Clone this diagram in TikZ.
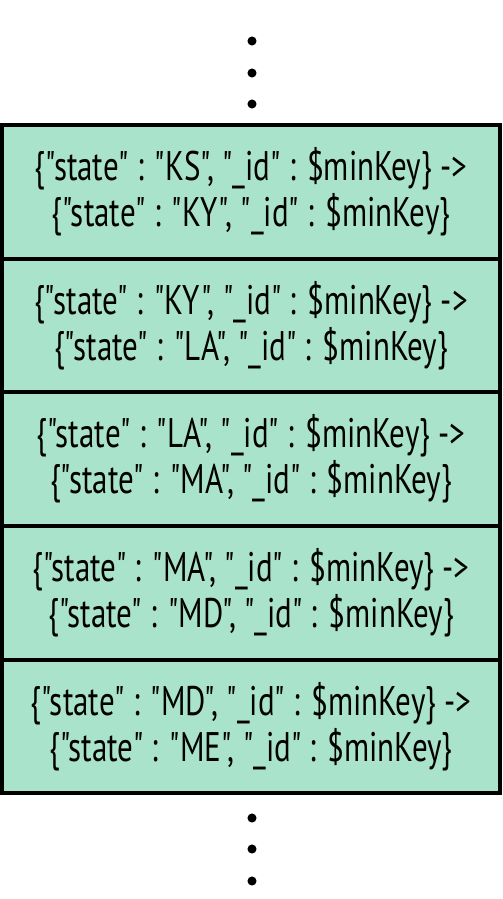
\documentclass[tikz,border=0pt]{standalone}
\usepackage{fontspec}
\setmainfont{PT Sans}[FakeStretch=0.75, Ligatures=TeXOff]
\usepackage{xcolor}
\definecolor{chunkgreen}{RGB}{170,227,203}

\begin{document}
\begin{tikzpicture}[x=0.75pt,y=-0.75pt]
		\tikzset{chunk/.style = {shape=rectangle, draw, line width=3pt, fill=chunkgreen,
			minimum width=373.5pt, minimum height=100.2pt, inner sep=0pt,
			align=center, font=\fontsize{31}{34.5}\selectfont}}
		\tikzset{dot/.style = {shape=circle, fill=black, inner sep=0pt, minimum size=6.8pt}}

		\useasboundingbox (0,0) rectangle (503,899);

		\node[dot] (T1) at (252,41) {};
		\node[dot] (T2) at (252,73) {};
		\node[dot] (T3) at (252,104) {};

		\node[chunk] (KS) at (251,192) {\{"state" : "KS", "\_id" : \$minKey\} ->\\ \{"state" : "KY", "\_id" : \$minKey\}};
		\node[chunk] (KY) at (251,325.6) {\{"state" : "KY", "\_id" : \$minKey\} ->\\ \{"state" : "LA", "\_id" : \$minKey\}};
		\node[chunk] (LA) at (251,459.2) {\{"state" : "LA", "\_id" : \$minKey\} ->\\ \{"state" : "MA", "\_id" : \$minKey\}};
		\node[chunk] (MA) at (251,592.8) {\{"state" : "MA", "\_id" : \$minKey\} ->\\ \{"state" : "MD", "\_id" : \$minKey\}};
		\node[chunk] (MD) at (251,726.4) {\{"state" : "MD", "\_id" : \$minKey\} ->\\ \{"state" : "ME", "\_id" : \$minKey\}};

		\node[dot] (B1) at (252,818) {};
		\node[dot] (B2) at (252,849) {};
		\node[dot] (B3) at (252,881) {};

	\end{tikzpicture}
\end{document}
